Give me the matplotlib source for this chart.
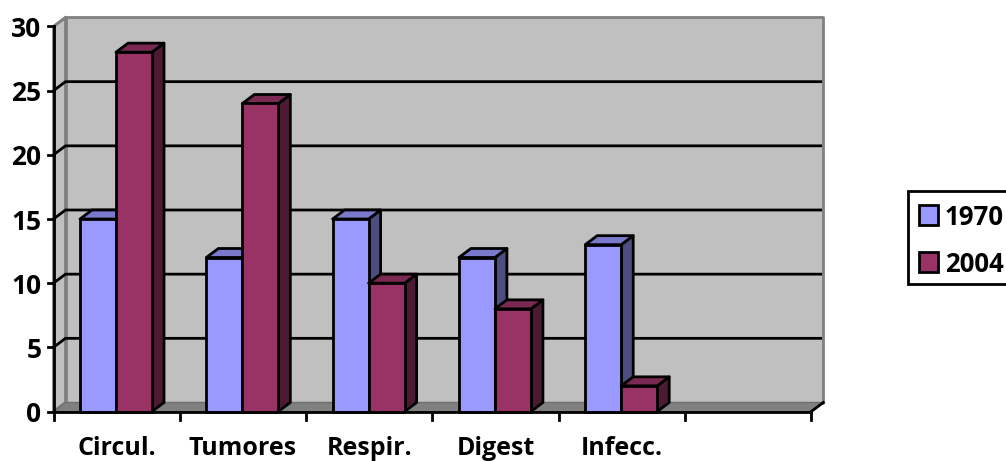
import matplotlib
matplotlib.use('Agg')
from matplotlib import pyplot as plt
from matplotlib.patches import Polygon, Rectangle

categorias = ['Circul.', 'Tumores', 'Respir.', 'Digest', 'Infecc.', '']
valores_1970 = [15, 12, 15, 12, 13]
valores_2004 = [28, 24, 10, 8, 2]
ticks_y = [0, 5, 10, 15, 20, 25, 30]

cor_1970 = ('#9999ff', '#7a7acc', '#4d4d80')
cor_2004 = ('#993366', '#7a2952', '#4d1a33')

plt.rcParams['font.family'] = ['Open Sans', 'DejaVu Sans']

fig = plt.figure(figsize=(10.06, 4.61), dpi=100)
ax = fig.add_axes([53.5 / 1006, 49.5 / 461, 757.8 / 1006, 385 / 461])
ax.set_xlim(0, 6)
ax.set_ylim(0, 30)
ax.axis('off')

# profundidade do efeito 3D, em unidades dos eixos
dx = 12 / (757.8 / 6)
dy = 9 / (385 / 30)


def poly(pontos, cor, borda='black', lw=2, z=1):
    ax.add_patch(Polygon(pontos, closed=True, facecolor=cor, edgecolor=borda,
                         linewidth=lw, zorder=z, clip_on=False, joinstyle='round'))


# paredes e chao
poly([(0, 0), (dx, dy), (dx, 30 + dy), (0, 30)], '#c0c0c0', '#808080', 2, 1)
poly([(dx, dy), (6 + dx, dy), (6 + dx, 30 + dy), (dx, 30 + dy)], '#c0c0c0', '#808080', 2, 1)
poly([(0, 0), (6, 0), (6 + dx, dy), (dx, dy)], '#808080', '#6e6e6e', 1, 1.5)

# grades
for v in ticks_y[1:-1]:
    ax.plot([0, dx, 6 + dx - 0.01], [v, v + dy, v + dy], color='black', lw=2,
            zorder=2, clip_on=False, solid_capstyle='butt')
ax.plot([0, dx], [30, 30 + dy], color='#808080', lw=2, zorder=2, clip_on=False)

# eixos
ax.plot([0, 0], [0, 30], color='black', lw=2, zorder=6, clip_on=False)
ax.plot([0, 6], [0, 0], color='black', lw=2, zorder=6, clip_on=False)
ax.plot([6, 6 + dx], [0, dy], color='black', lw=2, zorder=6, clip_on=False)
for v in ticks_y:
    ax.plot([-0.045, 0], [v, v], color='black', lw=2, zorder=6, clip_on=False)
    ax.text(-0.095, v, str(v), ha='right', va='center_baseline', fontsize=19,
            fontweight='bold', color='black', clip_on=False)
for i in range(7):
    ax.plot([i, i], [0, -0.65], color='black', lw=2, zorder=6, clip_on=False)
for i, nome in enumerate(categorias):
    ax.text(i + 0.5, -2.9, nome, ha='center', va='center', fontsize=18,
            fontweight='bold', color='black', clip_on=False)

# barras
larg = 0.285
inicio = 0.21


def barra(x, v, cores, z):
    frente, topo, lado = cores
    poly([(x + larg, 0), (x + larg + dx, dy), (x + larg + dx, v + dy), (x + larg, v)], lado, z=z)
    poly([(x, v), (x + larg, v), (x + larg + dx, v + dy), (x + dx, v + dy)], topo, z=z)
    poly([(x, 0), (x + larg, 0), (x + larg, v), (x, v)], frente, z=z + 0.1)


for i, (a, b) in enumerate(zip(valores_1970, valores_2004)):
    barra(i + inicio, a, cor_1970, 3)
    barra(i + inicio + larg, b, cor_2004, 4)

# legenda (sai pela borda direita como no original)
fig.add_artist(Rectangle((908 / 1006, 1 - 284 / 461), 120 / 1006, 93 / 461,
                         transform=fig.transFigure, facecolor='white',
                         edgecolor='black', linewidth=2))
for nome, cor, yc in [('1970', cor_1970[0], 215), ('2004', cor_2004[0], 262)]:
    fig.add_artist(Rectangle((919 / 1006, 1 - (yc + 10) / 461), 19 / 1006, 20 / 461,
                             transform=fig.transFigure, facecolor=cor,
                             edgecolor='black', linewidth=2))
    fig.text(945 / 1006, 1 - (yc + 2) / 461, nome, ha='left', va='center', fontsize=18.5,
             fontweight='bold', color='black')

fig.savefig('out.png', dpi=100)
